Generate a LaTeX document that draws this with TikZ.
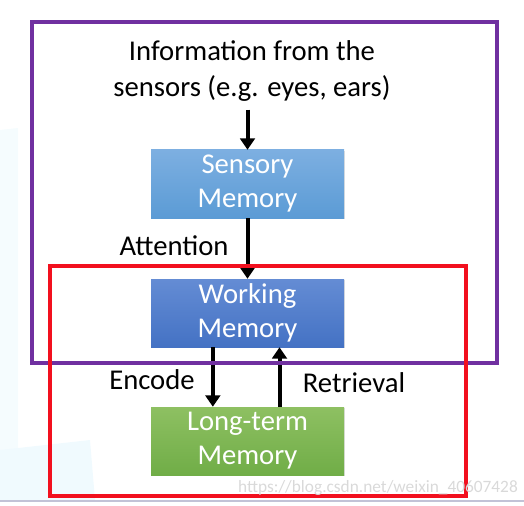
\documentclass[tikz,border=0pt]{standalone}
\usepackage{fontspec}
\setmainfont{Carlito}
\usetikzlibrary{arrows.meta,shadows}
\definecolor{boxpurple}{HTML}{7030A0}
\definecolor{boxred}{HTML}{F2101E}
\begin{document}
\begin{tikzpicture}[x=0.75pt,y=-0.75pt]
	\tikzstyle{mem_box} = [rectangle, minimum width=144.75pt, minimum height=51pt, align=center, text=white, font=\fontsize{21.5}{25.5}\selectfont, drop shadow={shadow xshift=0.8pt, shadow yshift=-0.8pt, opacity=0.25}]
	\tikzstyle{flow_label} = [font=\fontsize{21.5}{27}\selectfont, inner sep=0pt]
	\tikzstyle{flow_arrow} = [line width=3pt, -{Triangle[width=11pt,length=8.5pt]}]
	\useasboundingbox (0,0) rectangle (524,506);

	% Slide background
	\fill[cyan!4] (0,130) -- (18,128) -- (18,500) -- (0,500) -- cycle;
	\fill[cyan!6] (0,450) -- (90,440) -- (95,500) -- (0,500) -- cycle;
	\draw[line width=1.5pt, blue!20!gray!40] (0,501) -- (524,501);

	% Input text
	\node (info) [flow_label, align=center] at (252,71) {Information from the\\sensors (e.g. eyes, ears)};

	% Memory stores
	\node (sensory) [mem_box, top color={rgb,255:red,125;green,175;blue,225}, bottom color={rgb,255:red,91;green,155;blue,213}] at (247.5,184) {Sensory\\Memory};
	\node (working) [mem_box, top color={rgb,255:red,100;green,140;blue,212}, bottom color={rgb,255:red,68;green,114;blue,196}] at (247.5,313) {Working\\Memory};
	\node (longterm) [mem_box, top color={rgb,255:red,142;green,192;blue,98}, bottom color={rgb,255:red,112;green,173;blue,71}] at (247.5,441) {Long-term\\Memory};

	% Labels
	\node (attention) [flow_label] at (174,246) {Attention};
	\node (encode) [flow_label] at (152,380) {Encode};
	\node (retrieval) [flow_label] at (354,383) {Retrieval};

	% Arrows
	\draw[flow_arrow] ([yshift=-6pt]info.south -| sensory.north) -- (sensory.north);
	\draw[flow_arrow] (sensory.south) -- (working.north);
	\draw[flow_arrow] ([xshift=-26pt]working.south) -- ([xshift=-26pt]longterm.north);
	\draw[flow_arrow] ([xshift=24pt]longterm.north) -- ([xshift=24pt]working.south);

	% Frames
	\draw[boxpurple, line width=3pt] (32,22) rectangle (497,363);
	\draw[boxred, line width=2.4pt] (50,266) rectangle (466,496);

	% Watermark
	\node (mark) [text=gray!30, font=\fontsize{13}{15}\selectfont] at (378,488) {https://blog.csdn.net/weixin\_40607428};
\end{tikzpicture}
\end{document}
